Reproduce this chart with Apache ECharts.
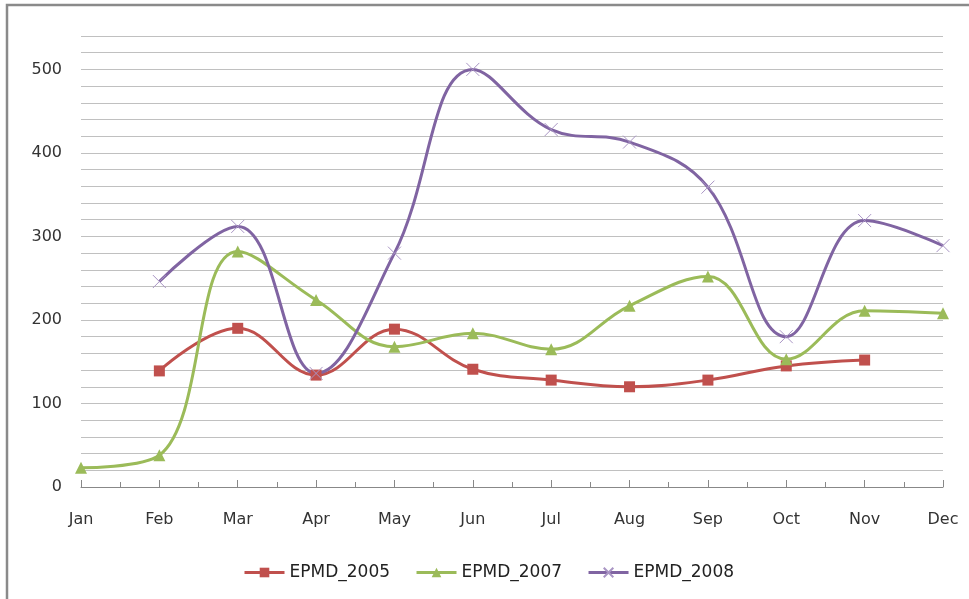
<!DOCTYPE html>
<html>
<head>
<meta charset="utf-8">
<script src="https://cdn.jsdelivr.net/npm/echarts@6/dist/echarts.min.js"></script>
<style>
  html, body { margin: 0; padding: 0; background: #fff; }
  #chart { width: 969px; height: 599px; }
</style>
</head>
<body>
<div id="chart"></div>
<script>
// month labels on the x axis
var months = ["Jan", "Feb", "Mar", "Apr", "May", "Jun", "Jul", "Aug", "Sep", "Oct", "Nov", "Dec"];

// values, null = no point that month
var epmd2005 = [null, 139, 190, 134, 189, 141, 128, 120, 128, 145, 152, null];
var epmd2007 = [23, 38, 282, 224, 168, 184, 165, 217, 252, 153, 211, 208];
var epmd2008 = [null, 246, 312, 136, 280, 500, 428, 413, 359, 180, 319, 289];

var chart = echarts.init(document.getElementById("chart"));

function toPairs(arr) {
  var out = [];
  for (var i = 0; i < arr.length; i++) {
    if (arr[i] != null) out.push([i, arr[i]]);
  }
  return out;
}

var font = "DejaVu Sans";

var option = {
  animation: false,
  backgroundColor: "#fff",
  graphic: [
    {
      type: "rect",
      shape: { x: 7, y: 5, width: 1000, height: 700 },
      style: { fill: "none", stroke: "#8a8a8a", lineWidth: 2.5 },
      silent: true
    }
  ],
  grid: { left: 81, right: 26, top: 36, bottom: 112 },
  legend: {
    bottom: 13,
    left: 238,
    itemWidth: 40,
    itemHeight: 12,
    itemGap: 25,
    lineStyle: { width: 3 },
    textStyle: { fontFamily: font, fontSize: 17, color: "#222" },
    data: ["EPMD_2005", "EPMD_2007", "EPMD_2008"]
  },
  xAxis: {
    type: "value",
    min: 0,
    max: 11,
    interval: 1,
    axisLine: { show: true, lineStyle: { color: "#888", width: 1 } },
    axisTick: { show: true, inside: true, length: 7, lineStyle: { color: "#888" } },
    minorTick: { show: true, splitNumber: 2, length: 5, lineStyle: { color: "#888" } },
    splitLine: { show: false },
    axisLabel: {
      margin: 25,
      fontFamily: font,
      fontSize: 16,
      color: "#333",
      formatter: function (v) { return months[v] || ""; }
    }
  },
  yAxis: {
    type: "value",
    min: 0,
    max: 540,
    interval: 20,
    axisLine: { show: false },
    axisTick: { show: false },
    splitLine: { show: true, lineStyle: { color: "#c0c0c0", width: 1 } },
    axisLabel: {
      margin: 19,
      fontFamily: font,
      fontSize: 16,
      color: "#333",
      formatter: function (v) { return v % 100 === 0 ? String(v) : ""; }
    }
  },
  series: [
    {
      name: "EPMD_2005",
      type: "line",
      smooth: 0.4,
      data: toPairs(epmd2005),
      symbol: "rect",
      symbolSize: 11,
      lineStyle: { color: "#C0504D", width: 3 },
      itemStyle: { color: "#C0504D" }
    },
    {
      name: "EPMD_2007",
      type: "line",
      smooth: 0.4,
      data: toPairs(epmd2007),
      symbol: "triangle",
      symbolSize: 12,
      lineStyle: { color: "#9BBB59", width: 3 },
      itemStyle: { color: "#9BBB59" }
    },
    {
      name: "EPMD_2008",
      type: "line",
      smooth: 0.4,
      data: toPairs(epmd2008),
      symbol: "path://M0,0L10,10M10,0L0,10",
      symbolSize: 13,
      lineStyle: { color: "#8064A2", width: 3 },
      itemStyle: { color: "#8064A2", borderColor: "#a995c4", borderWidth: 1 }
    }
  ]
};

chart.setOption(option);
</script>
</body>
</html>
